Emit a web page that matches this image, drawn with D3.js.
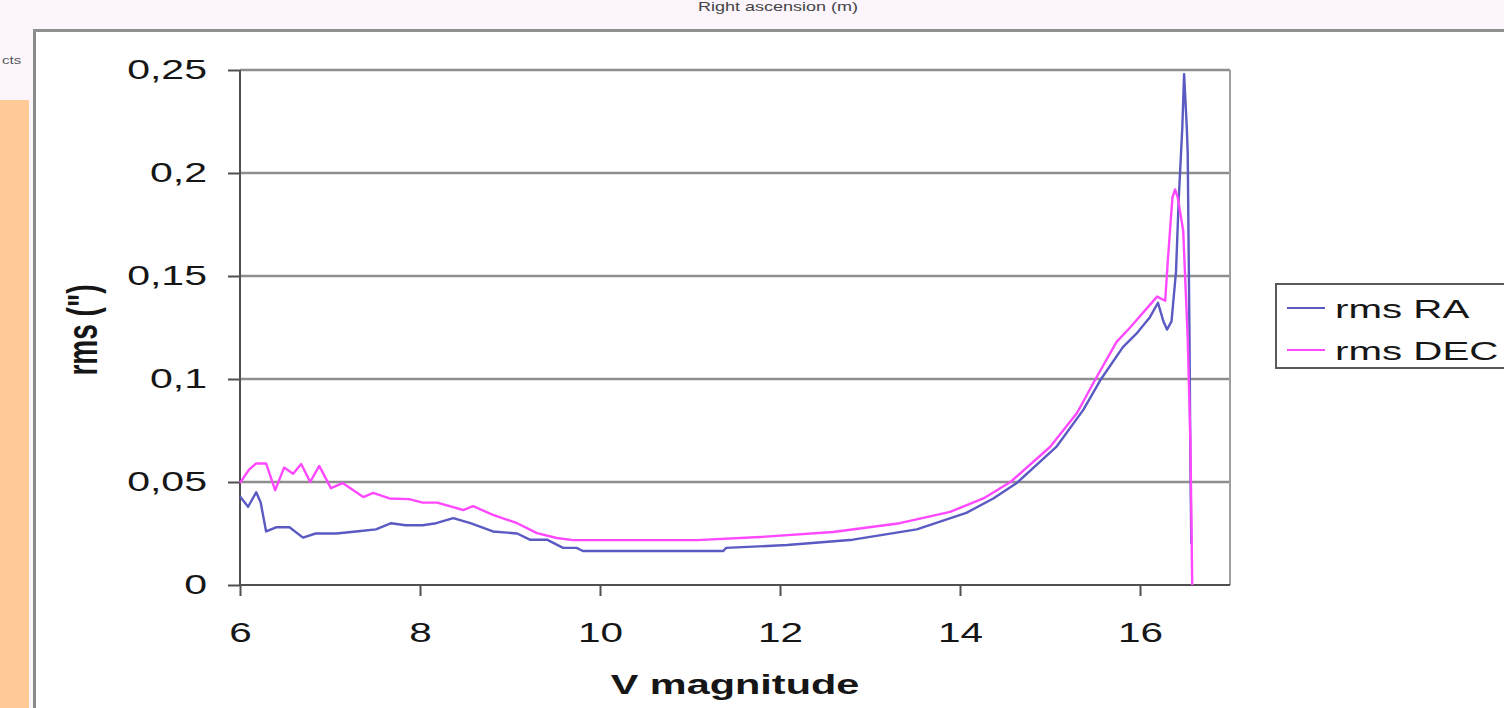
<!DOCTYPE html>
<html>
<head>
<meta charset="utf-8">
<script src="https://cdn.jsdelivr.net/npm/d3@7"></script>
<style>
  html, body { margin: 0; padding: 0; background: #fcf5fc; }
  svg { display: block; }
  text { font-family: "Liberation Sans", Arial, sans-serif; }
</style>
</head>
<body>
<svg id="chart" width="1504" height="708"></svg>
<script>
// DATA
const raMag = [6.00, 6.09, 6.18, 6.23, 6.29, 6.40, 6.55, 6.70, 6.84, 7.07, 7.29, 7.51, 7.68, 7.84, 8.03, 8.18,
  8.37, 8.56, 8.81, 9.08, 9.22, 9.41, 9.59, 9.74, 9.81, 11.37, 11.40, 12.08, 12.81, 13.52, 14.07, 14.37,
  14.63, 15.07, 15.37, 15.56, 15.81, 15.96, 16.11, 16.20, 16.26, 16.30, 16.35, 16.40, 16.43, 16.47, 16.49,
  16.52, 16.53, 16.55, 16.56, 16.57];
const raRms = [0.043, 0.038, 0.045, 0.040, 0.026, 0.028, 0.028, 0.023, 0.025, 0.025, 0.026, 0.027, 0.030, 0.029, 0.029, 0.030,
  0.0325, 0.030, 0.026, 0.025, 0.022, 0.022, 0.018, 0.018, 0.0165, 0.0165, 0.018, 0.0194, 0.022, 0.027, 0.035, 0.042,
  0.0495, 0.067, 0.085, 0.0995, 0.1155, 0.122, 0.130, 0.137, 0.128, 0.124, 0.128, 0.152, 0.187, 0.222, 0.248,
  0.222, 0.21, 0.12, 0.06, 0.02];

const decMag = [6.00, 6.10, 6.18, 6.29, 6.39, 6.49, 6.59, 6.68, 6.78, 6.88, 7.01, 7.14, 7.37, 7.48, 7.66, 7.88,
  8.03, 8.19, 8.48, 8.59, 8.81, 9.08, 9.30, 9.52, 9.70, 11.08, 11.78, 12.59, 13.33, 13.89, 14.26, 14.56,
  15.00, 15.30, 15.50, 15.74, 15.89, 16.11, 16.19, 16.28, 16.31, 16.36, 16.39, 16.42, 16.48, 16.53, 16.56, 16.58];
const decRms = [0.0495, 0.056, 0.059, 0.059, 0.046, 0.057, 0.054, 0.0587, 0.050, 0.0578, 0.047, 0.0495, 0.0427, 0.0447, 0.042, 0.0417,
  0.040, 0.040, 0.0364, 0.0383, 0.034, 0.030, 0.0252, 0.0228, 0.0218, 0.0218, 0.0233, 0.0257, 0.030, 0.0355, 0.042, 0.050,
  0.067, 0.0835, 0.0995, 0.118, 0.125, 0.136, 0.140, 0.138, 0.158, 0.188, 0.192, 0.188, 0.172, 0.12, 0.07, 0.0];

const xTicks = [6, 8, 10, 12, 14, 16];
const xTickLabels = ['6', '8', '10', '12', '14', '16'];
const yTicks = [0, 0.05, 0.1, 0.15, 0.2, 0.25];
const yTickLabels = ['0', '0,05', '0,1', '0,15', '0,2', '0,25'];
const seriesNames = ['rms RA', 'rms DEC'];
const seriesColors = ['#5a5ac2', '#ff48ff'];

// LAYOUT
const svg = d3.select('#chart');
const plotLeft = 240, plotRight = 1230, plotTop = 70, plotBottom = 585;
const stretch = 1.5; // picture is stretched horizontally

const x = d3.scaleLinear().domain([6, 17]).range([plotLeft, plotRight]);
const y = d3.scaleLinear().domain([0, 0.25]).range([plotBottom, plotTop]);

// page background pieces
svg.append('rect').attr('x', 0).attr('y', 0).attr('width', 1504).attr('height', 708).attr('fill', '#fcf5fc');
svg.append('rect').attr('x', 34).attr('y', 30).attr('width', 1470).attr('height', 678).attr('fill', '#ffffff');
svg.append('rect').attr('x', 0).attr('y', 100).attr('width', 29).attr('height', 608).attr('fill', '#ffca96');
svg.append('rect').attr('x', 29).attr('y', 100).attr('width', 4).attr('height', 608).attr('fill', '#fbf4f8');
svg.append('line').attr('x1', 34.5).attr('x2', 34.5).attr('y1', 29).attr('y2', 708)
  .attr('stroke', '#8a8a8a').attr('stroke-width', 3);
svg.append('line').attr('x1', 33).attr('x2', 1504).attr('y1', 30.5).attr('y2', 30.5)
  .attr('stroke', '#8f8f8f').attr('stroke-width', 3);

// texts of the surrounding page
svg.append('text')
  .attr('transform', 'translate(778,11) scale(' + stretch + ',1)')
  .attr('text-anchor', 'middle').attr('font-size', '12px').attr('fill', '#444')
  .text('Right ascension (m)');
svg.append('text')
  .attr('transform', 'translate(2,64) scale(' + stretch + ',1)')
  .attr('font-size', '10px').attr('fill', '#555')
  .text('cts');

// gridlines
svg.append('g')
  .selectAll('line')
  .data(yTicks.filter(d => d > 0))
  .join('line')
    .attr('x1', plotLeft).attr('x2', plotRight)
    .attr('y1', d => y(d)).attr('y2', d => y(d))
    .attr('stroke', '#8e8e8e').attr('stroke-width', 2.5);

svg.append('line')
  .attr('x1', plotRight).attr('x2', plotRight).attr('y1', plotTop).attr('y2', plotBottom)
  .attr('stroke', '#a0a0a0').attr('stroke-width', 2);

// axes
const yAxis = svg.append('g')
  .attr('transform', 'translate(' + plotLeft + ',0)')
  .call(d3.axisLeft(y).tickValues(yTicks).tickSize(12).tickSizeOuter(0)
    .tickFormat((d, i) => yTickLabels[i]));
const xAxis = svg.append('g')
  .attr('transform', 'translate(0,' + plotBottom + ')')
  .call(d3.axisBottom(x).tickValues(xTicks).tickSize(11).tickSizeOuter(0)
    .tickFormat((d, i) => xTickLabels[i]));

[yAxis, xAxis].forEach(function(ax){
  ax.select('.domain').attr('stroke', '#505050').attr('stroke-width', 2);
  ax.selectAll('.tick line').attr('stroke', '#505050').attr('stroke-width', 2);
  ax.selectAll('.tick text')
    .attr('font-family', '"Liberation Sans", Arial, sans-serif')
    .attr('font-size', '27px').attr('fill', '#161616');
});
yAxis.select('.domain').attr('d', 'M0,' + plotTop + 'V' + plotBottom);
xAxis.select('.domain').attr('d', 'M' + plotLeft + ',0H' + plotRight);

yAxis.selectAll('.tick text')
  .attr('x', 0).attr('dy', '0.3em')
  .attr('transform', 'translate(-33,0) scale(1.52,1)');
xAxis.selectAll('.tick text')
  .attr('y', 57).attr('dy', 0)
  .attr('transform', 'scale(' + stretch + ',1)');

// axis titles
svg.append('text')
  .attr('transform', 'translate(735,694) scale(1.48,1)')
  .attr('text-anchor', 'middle').attr('font-size', '28px').attr('font-weight', 'bold').attr('fill', '#161616')
  .text('V magnitude');
svg.append('text')
  .attr('transform', 'translate(97,330) scale(' + stretch + ',1) rotate(-90)')
  .attr('text-anchor', 'middle').attr('font-size', '28px').attr('font-weight', 'bold').attr('fill', '#161616')
  .text('rms (")');

// series lines
const line = d3.line().x(d => x(d[0])).y(d => y(d[1]));
const raData = raMag.map((m, i) => [m, raRms[i]]);
const decData = decMag.map((m, i) => [m, decRms[i]]);

svg.append('path').datum(raData)
  .attr('d', line).attr('fill', 'none')
  .attr('stroke', seriesColors[0]).attr('stroke-width', 2.4).attr('stroke-linejoin', 'round');
svg.append('path').datum(decData)
  .attr('d', line).attr('fill', 'none')
  .attr('stroke', seriesColors[1]).attr('stroke-width', 2.4).attr('stroke-linejoin', 'round');

// legend
const legend = svg.append('g');
legend.append('rect')
  .attr('x', 1276).attr('y', 284).attr('width', 260).attr('height', 84)
  .attr('fill', '#ffffff').attr('stroke', '#5a5a5a').attr('stroke-width', 2);
seriesNames.forEach(function(name, i){
  const ly = 308 + i * 42;
  legend.append('line')
    .attr('x1', 1287).attr('x2', 1325).attr('y1', ly).attr('y2', ly)
    .attr('stroke', seriesColors[i]).attr('stroke-width', 2.2);
  legend.append('text')
    .attr('transform', 'translate(1335,' + (ly + 10) + ') scale(1.55,1)')
    .attr('font-size', '26px').attr('fill', '#161616')
    .text(name);
});
</script>
</body>
</html>
